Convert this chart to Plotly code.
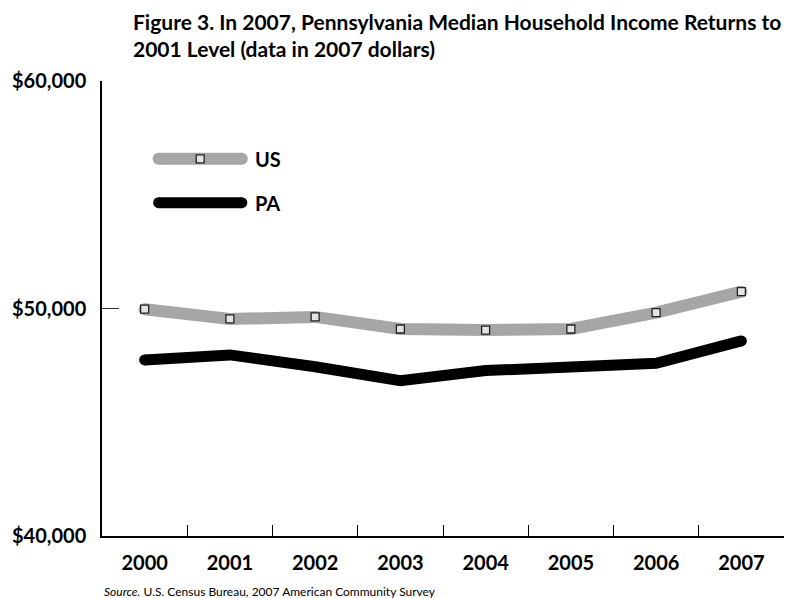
import plotly.graph_objects as go

# Median household income, 2007 dollars
years = ["2000", "2001", "2002", "2003", "2004", "2005", "2006", "2007"]
us_income = [49970, 49540, 49630, 49100, 49050, 49100, 49820, 50740]
pa_income = [47740, 47960, 47440, 46830, 47270, 47430, 47590, 48576]

y_ticks = [40000, 50000, 60000]
y_tick_text = ["$40,000", "$50,000", "$60,000"]

US_GRAY = "#a6a6a6"
FONT = "Lato"

fig = go.Figure()

# PA series: thick black line, rounded ends
fig.add_trace(go.Scatter(
    x=years, y=pa_income, mode="lines",
    line=dict(color="black", width=11), hoverinfo="skip", showlegend=False))
fig.add_trace(go.Scatter(
    x=[years[0], years[-1]], y=[pa_income[0], pa_income[-1]], mode="markers",
    marker=dict(symbol="circle", size=11, color="black", line=dict(width=0)),
    hoverinfo="skip", showlegend=False))

# US series: thick gray line with small square markers
fig.add_trace(go.Scatter(
    x=years, y=us_income, mode="lines",
    line=dict(color=US_GRAY, width=12), hoverinfo="skip", showlegend=False))
fig.add_trace(go.Scatter(
    x=[years[0], years[-1]], y=[us_income[0], us_income[-1]], mode="markers",
    marker=dict(symbol="circle", size=12, color=US_GRAY, line=dict(width=0)),
    hoverinfo="skip", showlegend=False))
fig.add_trace(go.Scatter(
    x=years, y=us_income, mode="markers",
    marker=dict(symbol="square", size=8, color="#e4e4e4",
                line=dict(color="#222222", width=1.3)),
    hoverinfo="skip", showlegend=False))

# Legend drawn inside the plot on an overlay axis (0..1 in both directions)
leg_x = [0.083, 0.205]
leg_us_y = 0.829
leg_pa_y = 0.7325
fig.add_trace(go.Scatter(
    x=leg_x, y=[leg_us_y, leg_us_y], mode="lines+markers", xaxis="x2", yaxis="y2",
    line=dict(color=US_GRAY, width=12),
    marker=dict(symbol="circle", size=12, color=US_GRAY, line=dict(width=0)),
    hoverinfo="skip", showlegend=False))
fig.add_trace(go.Scatter(
    x=[sum(leg_x) / 2], y=[leg_us_y], mode="markers", xaxis="x2", yaxis="y2",
    marker=dict(symbol="square", size=8, color="#e4e4e4",
                line=dict(color="#222222", width=1.3)),
    hoverinfo="skip", showlegend=False))
fig.add_trace(go.Scatter(
    x=leg_x, y=[leg_pa_y, leg_pa_y], mode="lines+markers", xaxis="x2", yaxis="y2",
    line=dict(color="black", width=11),
    marker=dict(symbol="circle", size=11, color="black", line=dict(width=0)),
    hoverinfo="skip", showlegend=False))

for label, yy in (("US", leg_us_y), ("PA", leg_pa_y)):
    fig.add_annotation(
        x=0.222, y=yy, xref="x2", yref="y2", text=f"<b>{label}</b>",
        showarrow=False, xanchor="left", yanchor="middle",
        font=dict(family=FONT, size=20, color="black"))

# Title, two lines, left aligned
fig.add_annotation(
    x=(131 - 102.3) / 682, y=1 + (81 - 7) / 455, xref="paper", yref="paper",
    text="<b>Figure 3. In 2007, Pennsylvania Median Household Income Returns to"
         "<br>2001 Level (data in 2007 dollars)</b>",
    showarrow=False, xanchor="left", yanchor="top", align="left",
    font=dict(family=FONT, size=21, color="black"))

# Source line
fig.add_annotation(
    x=0, y=-(591 - 536) / 455, xref="paper", yref="paper",
    text="<i>Source.</i> U.S. Census Bureau, 2007 American Community Survey",
    showarrow=False, xanchor="left", yanchor="middle",
    font=dict(family=FONT, size=12, color="black"))

fig.update_layout(
    width=792, height=598,
    margin=dict(l=102, r=8, t=81, b=62),
    paper_bgcolor="white", plot_bgcolor="white",
    showlegend=False,
    xaxis=dict(
        type="category", categoryorder="array", categoryarray=years,
        range=[-0.5, 7.5], tickson="boundaries",
        ticks="inside", ticklen=11, tickwidth=1, tickcolor="black",
        showline=True, linecolor="black", linewidth=1.5,
        showgrid=False, zeroline=False,
        tickfont=dict(family=FONT, size=20, color="black", weight="bold"),
        ticklabelstandoff=8,
    ),
    yaxis=dict(
        range=[40000, 60000], tickmode="array",
        tickvals=y_ticks, ticktext=y_tick_text,
        ticks="inside", ticklen=17, tickwidth=1, tickcolor="#333333",
        showline=True, linecolor="black", linewidth=1.5,
        showgrid=False, zeroline=False,
        tickfont=dict(family=FONT, size=20, color="black", weight="bold"),
        ticklabelstandoff=10,
    ),
    xaxis2=dict(range=[0, 1], overlaying="x", visible=False, fixedrange=True),
    yaxis2=dict(range=[0, 1], overlaying="y", visible=False, fixedrange=True),
)

fig.write_html("out.html")
